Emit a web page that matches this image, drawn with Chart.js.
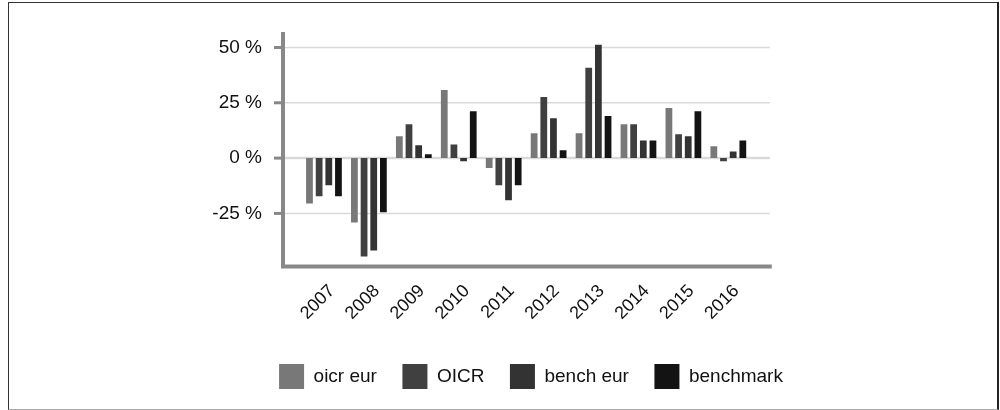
<!DOCTYPE html>
<html>
<head>
<meta charset="utf-8">
<script src="https://cdn.jsdelivr.net/npm/chart.js@4.4.1/dist/chart.umd.min.js"></script>
<style>
    body { margin: 0; background: #fff; }
    #wrap { position: relative; width: 1000px; height: 410px; }
    #frame {
        position: absolute; left: 8px; top: 2px; right: 1px; bottom: 0;
        border-left: 1px solid #333; border-top: 1px solid #333;
        border-right: 2px solid #222; border-bottom: 1px solid #aaa;
        pointer-events: none;
    }
</style>
</head>
<body>
<div id="wrap">
    <canvas id="perfchart" width="1000" height="410"></canvas>
    <div id="frame"></div>
</div>
<script>
var years = ['2007', '2008', '2009', '2010', '2011', '2012', '2013', '2014', '2015', '2016'];
var oicrEur = [-20.5, -29.1, 9.9, 30.8, -4.5, 11.2, 11.2, 15.3, 22.6, 5.3];
var oicr = [-17.3, -44.5, 15.3, 6.2, -12.3, 27.6, 40.8, 15.3, 10.8, -1.4];
var benchEur = [-12.3, -41.8, 5.8, -1.4, -19.1, 18.0, 51.2, 8.0, 9.9, 3.0];
var benchmark = [-17.3, -24.5, 1.7, 21.2, -12.3, 3.5, 19.0, 8.0, 21.2, 8.0];
var yTicks = [-25, 0, 25, 50];

var FONT = '"Liberation Sans", Arial, sans-serif';

// grey axis lines + light gridlines, drawn a bit wider than the chart area
var axisPlugin = {
    id: 'axisLines',
    beforeDatasetsDraw: function (chart) {
        var ctx = chart.ctx, area = chart.chartArea, y = chart.scales.y;
        var left = area.left - 18.5, right = area.right + 19;
        ctx.save();
        ctx.strokeStyle = '#d9d9d9';
        yTicks.forEach(function (v) {
            var py = y.getPixelForValue(v);
            ctx.lineWidth = v === 0 ? 2.5 : 1.5;
            ctx.beginPath();
            ctx.moveTo(left, py);
            ctx.lineTo(right, py);
            ctx.stroke();
        });
        ctx.restore();
    },
    afterDatasetsDraw: function (chart) {
        var ctx = chart.ctx, area = chart.chartArea, y = chart.scales.y;
        var left = area.left - 18.5, right = area.right + 21;
        ctx.save();
        ctx.strokeStyle = '#888';
        ctx.lineWidth = 3;
        yTicks.forEach(function (v) {
            var py = y.getPixelForValue(v);
            ctx.beginPath();
            ctx.moveTo(left - 9, py);
            ctx.lineTo(left, py);
            ctx.stroke();
        });
        ctx.lineWidth = 4;
        ctx.beginPath();
        ctx.moveTo(left, area.top);
        ctx.lineTo(left, area.bottom + 2);
        ctx.moveTo(left - 2, area.bottom);
        ctx.lineTo(right, area.bottom);
        ctx.stroke();
        ctx.restore();
    }
};

var ctx = document.getElementById('perfchart').getContext('2d');
var myChart = new Chart(ctx, {
    type: 'bar',
    data: {
        labels: years,
        datasets: [
            { label: 'oicr eur', data: oicrEur, backgroundColor: '#787878' },
            { label: 'OICR', data: oicr, backgroundColor: '#404040' },
            { label: 'bench eur', data: benchEur, backgroundColor: '#333333' },
            { label: 'benchmark', data: benchmark, backgroundColor: '#131313' }
        ]
    },
    options: {
        responsive: false,
        animation: false,
        datasets: {
            bar: { categoryPercentage: 0.86, barPercentage: 0.7 }
        },
        layout: {
            padding: { left: 62, right: 0, top: 32, bottom: 11 }
        },
        scales: {
            x: {
                offset: true,
                grid: { display: false, drawTicks: false },
                border: { display: false },
                ticks: {
                    minRotation: 45,
                    maxRotation: 45,
                    padding: 14,
                    labelOffset: 8,
                    color: '#111',
                    font: { family: FONT, size: 18 }
                },
                afterFit: function (scale) {
                    scale.height = 72;
                    scale.paddingRight = 249.2;
                }
            },
            y: {
                min: -49,
                max: 57,
                grid: { display: false, drawTicks: false },
                border: { display: false },
                afterBuildTicks: function (scale) {
                    scale.ticks = yTicks.map(function (v) { return { value: v }; });
                },
                ticks: {
                    padding: 39.5,
                    color: '#111',
                    font: { family: FONT, size: 19 },
                    callback: function (v) { return v + ' %'; }
                },
                afterFit: function (scale) {
                    scale.width = 239.5;
                    scale.paddingTop = 0;
                    scale.paddingBottom = 0;
                }
            }
        },
        plugins: {
            legend: {
                position: 'bottom',
                labels: {
                    boxWidth: 25,
                    boxHeight: 25,
                    padding: 25.5,
                    color: '#111',
                    font: { family: FONT, size: 19 }
                }
            },
            tooltip: { enabled: false }
        }
    },
    plugins: [axisPlugin]
});
</script>
</body>
</html>
